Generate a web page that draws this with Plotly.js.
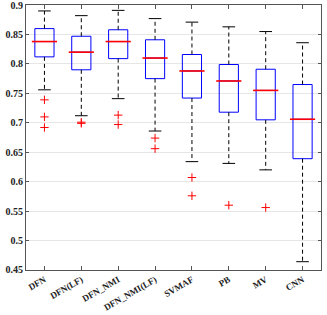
<!DOCTYPE html>
<html><head><meta charset="utf-8">
<script src="https://cdn.plot.ly/plotly-3.0.1.min.js"></script>
<style>html,body{margin:0;padding:0;background:#fff}</style>
</head><body><div id="c" style="width:327px;height:315px"></div>
<script>
const categories = ["DFN","DFN(LF)","DFN_NMI","DFN_NMI(LF)","SVMAF","PB","MV","CNN"];
const upperWhisker = [0.890,0.882,0.891,0.877,0.871,0.863,0.855,0.836];
const q3 = [0.860,0.847,0.858,0.841,0.816,0.799,0.791,0.765];
const median = [0.838,0.820,0.838,0.810,0.788,0.771,0.755,0.706];
const q1 = [0.812,0.790,0.809,0.775,0.742,0.718,0.705,0.639];
const lowerWhisker = [0.756,0.712,0.741,0.686,0.634,0.631,0.620,0.464];
const outliers = [
  [0.739,0.710,0.692],
  [0.701,0.699],
  [0.713,0.697],
  [0.674,0.656],
  [0.607,0.576],
  [0.560],
  [0.556],
  []
];
const yTicks = [0.45,0.5,0.55,0.6,0.65,0.7,0.75,0.8,0.85,0.9];
const yTickText = ['0.45','0.5','0.55','0.6','0.65','0.7','0.75','0.8','0.85','0.9'];

const whX = [], whY = [];
categories.forEach((c,i)=>{
  whX.push(c,c,null,c,c,null);
  whY.push(q3[i],upperWhisker[i],null,q1[i],lowerWhisker[i],null);
});
const capX = categories.concat(categories);
const capY = upperWhisker.concat(lowerWhisker);
const oX = [], oY = [];
outliers.forEach((arr,i)=>arr.forEach(v=>{oX.push(categories[i]);oY.push(v);}));

const traces = [
  {type:'scatter',mode:'lines',x:whX,y:whY,line:{color:'#000',width:1,dash:'4px,3px'},hoverinfo:'skip'},
  {type:'scatter',mode:'markers',x:capX,y:capY,marker:{symbol:'line-ew',size:9,line:{color:'#000',width:1}},hoverinfo:'skip'},
  {type:'box',x:categories,q1:q1,median:median,q3:q3,lowerfence:q1,upperfence:q3,
   line:{color:'#0000ff',width:1},fillcolor:'rgba(255,255,255,0)',width:0.52,whiskerwidth:0},
  {type:'scatter',mode:'markers',x:categories,y:median,marker:{symbol:'line-ew',size:18,line:{color:'#ff0000',width:1.6}},hoverinfo:'skip'},
  {type:'scatter',mode:'markers',x:oX,y:oY,marker:{symbol:'cross-thin',size:6,line:{color:'#ff0000',width:1}},hoverinfo:'skip'}
];
const font = {family:'"Liberation Serif","Times New Roman",serif',size:10,color:'#222'};
const layout = {
  width:327,height:315,showlegend:false,
  margin:{l:26,r:6,t:5,b:45},
  paper_bgcolor:'#fff',plot_bgcolor:'#fff',
  font:font,
  xaxis:{type:'category',range:[-0.5,7.5],tickangle:-30,ticks:'inside',ticklen:4,tickcolor:'#555',
    showline:true,linecolor:'#555',linewidth:1,mirror:'ticks',showgrid:false,
    tickfont:{family:font.family,size:9,color:'#222',weight:'bold'}},
  yaxis:{range:[0.4499,0.9001],tickvals:yTicks,ticktext:yTickText,ticklabeloverflow:'allow',
    ticks:'inside',ticklen:3,tickcolor:'#555',showline:true,linecolor:'#555',linewidth:1,mirror:'ticks',
    showgrid:true,gridcolor:'#e6e6e6',zeroline:false,
    tickfont:{family:font.family,size:10,color:'#222',weight:'bold'}}
};
Plotly.newPlot('c',traces,layout,{displayModeBar:false,staticPlot:true});
</script></body></html>
